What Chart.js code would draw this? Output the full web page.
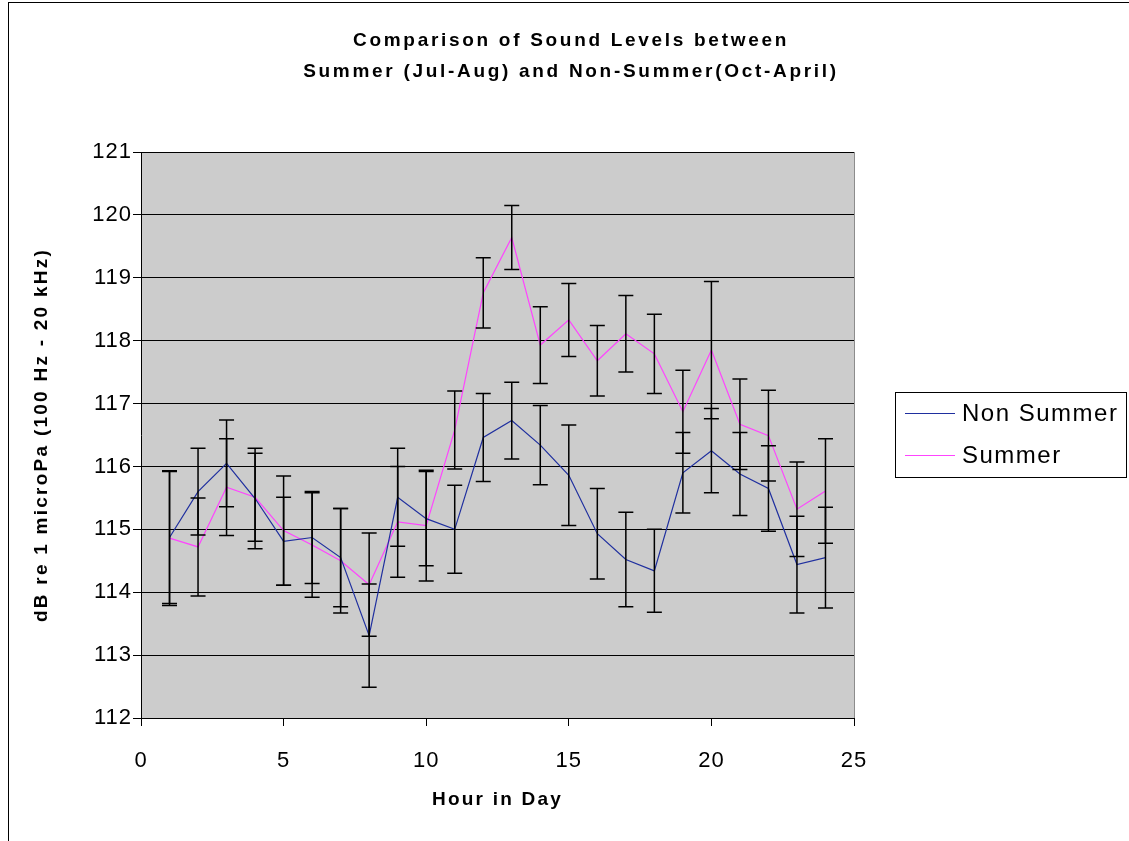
<!DOCTYPE html>
<html>
<head>
<meta charset="utf-8">
<script src="https://cdn.jsdelivr.net/npm/chart.js@4.4.1/dist/chart.umd.min.js"></script>
<style>
  html, body { margin: 0; padding: 0; background: #ffffff; }
  #wrap { width: 1129px; height: 841px; position: relative; }
</style>
</head>
<body>
<div id="wrap"><canvas id="c" width="1129" height="841"></canvas></div>
<script>
// ---- Data ----
const hours = [1, 2, 3, 4, 5, 6, 7, 8, 9, 10, 11, 12, 13, 14, 15, 16, 17, 18, 19, 20, 21, 22, 23, 24];
const nonSummer = [114.87, 115.60, 116.05, 115.49, 114.81, 114.87, 114.55, 113.31, 115.51, 115.17, 115.00, 116.46,
                   116.73, 116.34, 115.86, 114.93, 114.52, 114.34, 115.90, 116.25, 115.88, 115.65, 114.44, 114.55];
const nonSummerErr = [1.05, 0.69, 0.69, 0.80, 0.70, 0.73, 0.78, 0.82, 0.78, 0.75, 0.70, 0.70,
                      0.61, 0.63, 0.80, 0.72, 0.75, 0.66, 0.64, 0.67, 0.66, 0.68, 0.77, 0.80];
const summer = [114.86, 114.72, 115.67, 115.51, 114.98, 114.75, 114.50, 114.12, 115.12, 115.06, 116.58, 118.76,
                119.64, 117.93, 118.33, 117.68, 118.11, 117.79, 116.87, 117.85, 116.67, 116.49, 115.32, 115.61];
const summerErr = [1.07, 0.78, 0.77, 0.70, 0.87, 0.83, 0.83, 0.82, 0.88, 0.88, 0.62, 0.56,
                   0.51, 0.61, 0.58, 0.56, 0.61, 0.63, 0.66, 1.09, 0.72, 0.72, 0.75, 0.83];
const seriesNames = ['Non Summer', 'Summer'];
const titleLines = ['Comparison of Sound Levels between', 'Summer (Jul-Aug) and Non-Summer(Oct-April)'];
const xTitle = 'Hour in Day';
const yTitle = 'dB re 1 microPa (100 Hz - 20 kHz)';
const xTicks = [0, 5, 10, 15, 20, 25];
const yTicks = [112, 113, 114, 115, 116, 117, 118, 119, 120, 121];

const FONT = "'Liberation Sans', Arial, Helvetica, sans-serif";
const blue = '#1f2f9f';
const pink = '#ff44ff';

function toPoints(xs, ys) { return xs.map((x, i) => ({ x: x, y: ys[i] })); }

const errorMap = [nonSummerErr, summerErr];
const titleSpacing = { x: '2.2px', y: '2.25px' };

const spacingPlugin = {
  id: 'spacing',
  beforeUpdate(chart) { chart.ctx.letterSpacing = '1px'; },
  afterLayout(chart) {
    Object.values(chart.scales).forEach(s => {
      if (s._spacingWrapped) return;
      const orig = s.drawTitle.bind(s);
      s.drawTitle = function () {
        const c = this.ctx;
        const prev = c.letterSpacing;
        c.letterSpacing = titleSpacing[this.axis] || '0px';
        orig();
        c.letterSpacing = prev;
      };
      s._spacingWrapped = true;
    });
  },
  beforeDraw(chart) {
    const { ctx, chartArea: a } = chart;
    ctx.save();
    ctx.fillStyle = '#ffffff';
    ctx.fillRect(0, 0, chart.width, chart.height);
    ctx.strokeStyle = '#000000';
    ctx.lineWidth = 1;
    ctx.strokeRect(8.5, 2.5, 1300, 1000);
    ctx.fillStyle = '#cccccc';
    ctx.fillRect(a.left, a.top, a.right - a.left, a.bottom - a.top);
    ctx.strokeStyle = '#8c8c8c';
    ctx.beginPath();
    ctx.moveTo(a.right + 0.5, a.top);
    ctx.lineTo(a.right + 0.5, a.bottom);
    ctx.stroke();
    ctx.restore();
    ctx.letterSpacing = '1px';
  },
  beforeDatasetsDraw(chart) { chart.ctx.letterSpacing = '0px'; },
  afterDatasetsDraw(chart) {
    const { ctx } = chart;
    const xs = chart.scales.x, ys = chart.scales.y;
    ctx.save();
    ctx.strokeStyle = '#000000';
    ctx.lineWidth = 1.5;
    chart.data.datasets.forEach((ds, di) => {
      const errs = errorMap[di];
      ds.data.forEach((p, i) => {
        const x = xs.getPixelForValue(p.x);
        const yt = ys.getPixelForValue(p.y + errs[i]);
        const yb = ys.getPixelForValue(p.y - errs[i]);
        ctx.beginPath();
        ctx.moveTo(x, yt); ctx.lineTo(x, yb);
        ctx.moveTo(x - 7.5, yt); ctx.lineTo(x + 7.5, yt);
        ctx.moveTo(x - 7.5, yb); ctx.lineTo(x + 7.5, yb);
        ctx.stroke();
      });
    });
    ctx.restore();
  },
  afterDraw(chart) {
    const { ctx } = chart;
    ctx.save();
    ctx.fillStyle = '#000000';
    ctx.font = 'bold 19px ' + FONT;
    ctx.letterSpacing = '2.7px';
    ctx.textAlign = 'center';
    ctx.textBaseline = 'middle';
    ctx.fillText(titleLines[0], 571, 41);
    ctx.fillText(titleLines[1], 571, 72);
    ctx.letterSpacing = '1.5px';
    ctx.strokeStyle = '#000000';
    ctx.lineWidth = 1;
    ctx.strokeRect(895.5, 392.5, 231, 85);
    const items = [{ y: 413, c: blue }, { y: 455, c: pink }];
    ctx.font = '24px ' + FONT;
    ctx.textAlign = 'left';
    items.forEach((it, i) => {
      ctx.strokeStyle = it.c;
      ctx.lineWidth = 1.2;
      ctx.beginPath();
      ctx.moveTo(905, it.y + 0.5); ctx.lineTo(955, it.y + 0.5);
      ctx.stroke();
      ctx.fillStyle = '#000000';
      ctx.fillText(chart.data.datasets[i].label, 962, it.y + 1);
    });
    ctx.restore();
  }
};

new Chart(document.getElementById('c'), {
  type: 'line',
  data: {
    datasets: [
      { label: seriesNames[0], data: toPoints(hours, nonSummer), borderColor: blue, borderWidth: 1.2,
        pointRadius: 0, fill: false, tension: 0 },
      { label: seriesNames[1], data: toPoints(hours, summer), borderColor: pink, borderWidth: 1.2,
        pointRadius: 0, fill: false, tension: 0 }
    ]
  },
  options: {
    responsive: false,
    animation: false,
    devicePixelRatio: 1,
    layout: { padding: { left: 26, right: 275, top: 152, bottom: 26 } },
    plugins: { legend: { display: false }, title: { display: false }, tooltip: { enabled: false } },
    scales: {
      x: {
        type: 'linear', min: 0, max: 25,
        afterBuildTicks(s) { s.ticks = xTicks.map(v => ({ value: v })); },
        afterFit(s) { s.height = 97; },
        grid: { drawOnChartArea: false, drawTicks: true, tickLength: 8, color: '#000000' },
        border: { color: '#000000', width: 1 },
        ticks: { color: '#000000', font: { family: FONT, size: 22 }, padding: 22, maxRotation: 0 },
        title: { display: true, text: xTitle, color: '#000000', font: { family: FONT, size: 19, weight: 'bold' },
                 padding: { top: 4, bottom: 4 } }
      },
      y: {
        type: 'linear', min: 112, max: 121,
        afterBuildTicks(s) { s.ticks = yTicks.map(v => ({ value: v })); },
        afterFit(s) { s.width = 115; },
        grid: { color: '#000000', lineWidth: 1, tickLength: 8 },
        border: { color: '#000000', width: 1 },
        ticks: { color: '#000000', font: { family: FONT, size: 22 }, padding: 1 },
        title: { display: true, text: yTitle, color: '#000000', font: { family: FONT, size: 19, weight: 'bold' },
                 padding: { top: 4, bottom: 4 } }
      }
    }
  },
  plugins: [spacingPlugin]
});
</script>
</body>
</html>
